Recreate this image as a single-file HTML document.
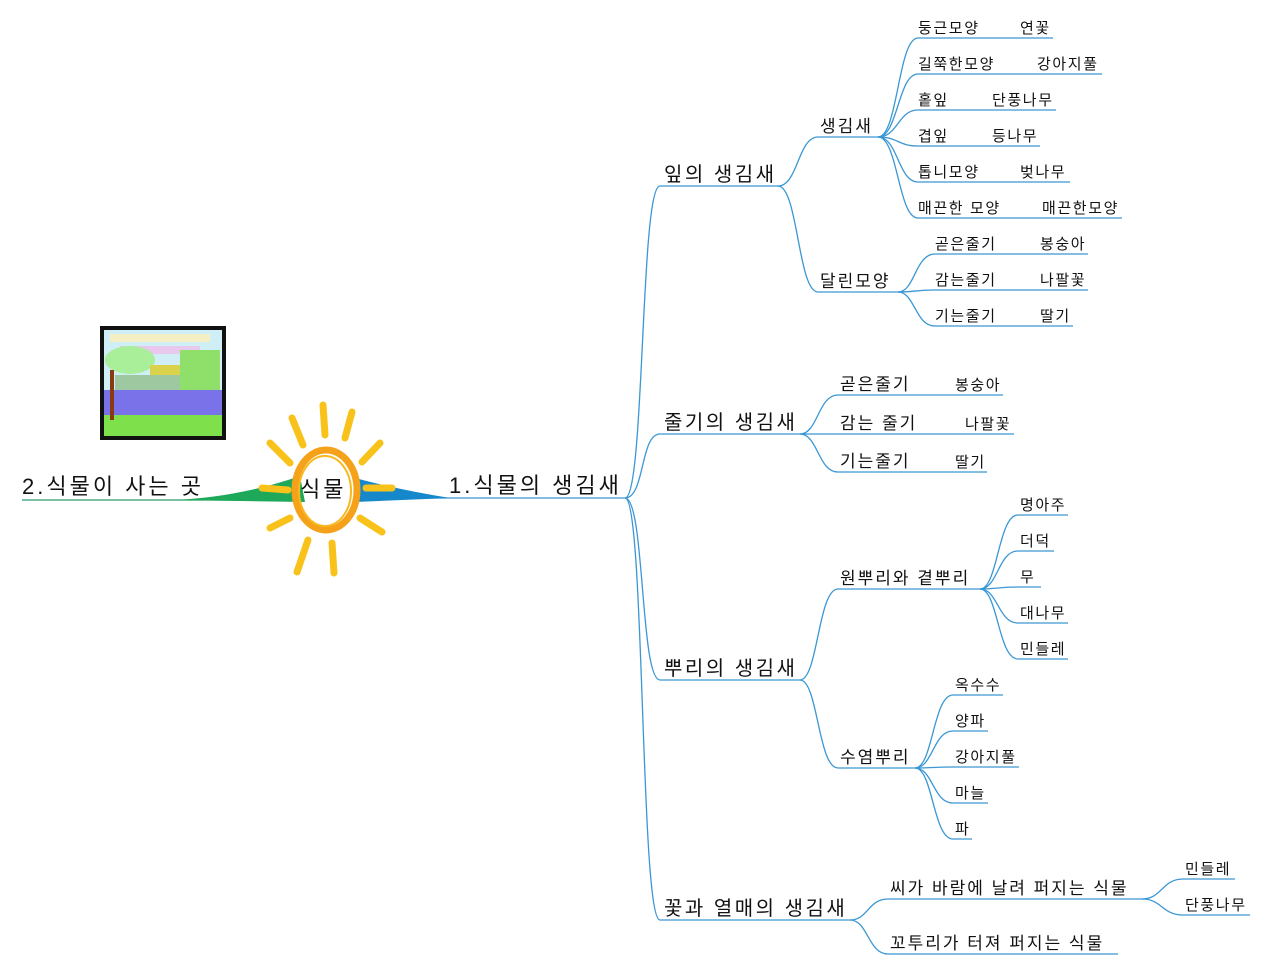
<!DOCTYPE html>
<html><head><meta charset="utf-8"><style>
html,body{margin:0;padding:0;background:#fff;}
svg{display:block;}
text{font-family:"Liberation Sans","Noto Sans CJK KR",sans-serif;fill:#111;}
.l{fill:none;stroke:#3a97d4;stroke-width:1.3;}
.a{font-size:20px;letter-spacing:2.5px;}
.b{font-size:17px;letter-spacing:2px;}
.c{font-size:15px;letter-spacing:1.6px;}
.r{font-size:22px;letter-spacing:3px;}
</style></head><body>
<svg width="1269" height="976" viewBox="0 0 1269 976">
<!-- picture -->
<rect x="100" y="326" width="126" height="114" fill="#111"/>
<rect x="104" y="330" width="118" height="106" fill="#cfeef6"/>
<rect x="110" y="334" width="100" height="8" fill="#f3efc2"/>
<rect x="120" y="346" width="80" height="8" fill="#e8c8ec"/>
<ellipse cx="130" cy="360" rx="25" ry="14" fill="#a9ee98"/>
<rect x="150" y="365" width="35" height="15" fill="#d9d24a"/>
<rect x="180" y="350" width="40" height="40" fill="#8fe06a"/>
<rect x="115" y="375" width="65" height="15" fill="#9ec9a0"/>
<rect x="104" y="390" width="118" height="25" fill="#7a72e8"/>
<rect x="104" y="415" width="118" height="21" fill="#7ee04a"/>
<rect x="110" y="370" width="4" height="50" fill="#8a3a10"/>
<!-- root wedges -->
<line x1="22" y1="500" x2="240" y2="500" stroke="#2a9a6a" stroke-width="1.3"/>
<path d="M175 500 Q240 497 300 476 L305 502 Z" fill="#1ea85a"/>
<line x1="400" y1="498" x2="625" y2="498" stroke="#3a97d4" stroke-width="1.3"/>
<path d="M355 478 Q400 490 450 498 L355 502 Z" fill="#1588cc"/>
<!-- sun rays -->
<g stroke="#f8c21a" stroke-width="7" stroke-linecap="round">
<line x1="323" y1="405" x2="325" y2="435"/>
<line x1="292" y1="418" x2="303" y2="445"/>
<line x1="352" y1="412" x2="345" y2="438"/>
<line x1="270" y1="443" x2="290" y2="463"/>
<line x1="380" y1="443" x2="362" y2="462"/>
<line x1="262" y1="488" x2="288" y2="490"/>
<line x1="366" y1="488" x2="392" y2="488"/>
<line x1="270" y1="528" x2="290" y2="518"/>
<line x1="360" y1="518" x2="382" y2="532"/>
<line x1="308" y1="540" x2="297" y2="572"/>
<line x1="332" y1="543" x2="334" y2="573"/>
</g>
<ellipse cx="326" cy="490" rx="31" ry="40" fill="none" stroke="#f5a21a" stroke-width="7"/>
<ellipse cx="325" cy="491" rx="26" ry="35" fill="none" stroke="#f8b820" stroke-width="2"/>
<text x="300" y="497" class="r">식물</text>
<text x="22" y="494" class="r">2.식물이 사는 곳</text>
<text x="449" y="493" class="r">1.식물의 생김새</text>
<!-- main branches -->
<path class="l" d="M625 498 C645 498 640 186 660 186 L778 186"/>
<path class="l" d="M625 498 C645 498 640 434 660 434 L800 434"/>
<path class="l" d="M625 498 C645 498 640 680 660 680 L800 680"/>
<path class="l" d="M625 498 C645 498 640 920 660 920 L850 920"/>
<text class="a" x="664" y="181">잎의 생김새</text>
<text class="a" x="664" y="429">줄기의 생김새</text>
<text class="a" x="664" y="675">뿌리의 생김새</text>
<text class="a" x="664" y="915">꽃과 열매의 생김새</text>
<!-- 잎 -->
<path class="l" d="M778 186 C798 186 798 137 818 137 L878 137"/>
<path class="l" d="M778 186 C798 186 798 292 818 292 L898 292"/>
<text class="b" x="820" y="132">생김새</text>
<text class="b" x="820" y="287">달린모양</text>
<g class="l">
<path d="M878 137 C898 137 898 38 918 38 L1053 38"/>
<path d="M878 137 C898 137 898 74 918 74 L1102 74"/>
<path d="M878 137 C898 137 898 110 918 110 L1056 110"/>
<path d="M878 137 C898 137 898 146 918 146 L1040 146"/>
<path d="M878 137 C898 137 898 182 918 182 L1070 182"/>
<path d="M878 137 C898 137 898 218 918 218 L1122 218"/>
<path d="M898 292 C915 292 915 254 935 254 L1088 254"/>
<path d="M898 292 C915 292 915 290 935 290 L1088 290"/>
<path d="M898 292 C915 292 915 326 935 326 L1073 326"/>
</g>
<g class="c">
<text x="918" y="33">둥근모양</text><text x="1020" y="33">연꽃</text>
<text x="918" y="69">길쭉한모양</text><text x="1037" y="69">강아지풀</text>
<text x="918" y="105">홑잎</text><text x="992" y="105">단풍나무</text>
<text x="918" y="141">겹잎</text><text x="992" y="141">등나무</text>
<text x="918" y="177">톱니모양</text><text x="1020" y="177">벚나무</text>
<text x="918" y="213">매끈한 모양</text><text x="1042" y="213">매끈한모양</text>
<text x="935" y="249">곧은줄기</text><text x="1040" y="249">봉숭아</text>
<text x="935" y="285">감는줄기</text><text x="1040" y="285">나팔꽃</text>
<text x="935" y="321">기는줄기</text><text x="1040" y="321">딸기</text>
</g>
<!-- 줄기 -->
<path class="l" d="M800 434 C818 434 818 395 838 395 L1003 395"/>
<path class="l" d="M800 434 C818 434 818 434 838 434 L1014 434"/>
<path class="l" d="M800 434 C818 434 818 472 838 472 L987 472"/>
<text class="b" x="840" y="390">곧은줄기</text><text class="c" x="955" y="390">봉숭아</text>
<text class="b" x="840" y="429">감는 줄기</text><text class="c" x="965" y="429">나팔꽃</text>
<text class="b" x="840" y="467">기는줄기</text><text class="c" x="955" y="467">딸기</text>
<!-- 뿌리 -->
<path class="l" d="M800 680 C818 680 818 589 838 589 L980 589"/>
<path class="l" d="M800 680 C818 680 818 768 838 768 L915 768"/>
<text class="b" x="840" y="584">원뿌리와 곁뿌리</text>
<text class="b" x="840" y="763">수염뿌리</text>
<g class="l">
<path d="M980 589 C998 589 998 515 1018 515 L1068 515"/>
<path d="M980 589 C998 589 998 551 1018 551 L1054 551"/>
<path d="M980 589 C998 589 998 587 1018 587 L1041 587"/>
<path d="M980 589 C998 589 998 623 1018 623 L1068 623"/>
<path d="M980 589 C998 589 998 659 1018 659 L1068 659"/>
<path d="M915 768 C933 768 933 695 953 695 L1003 695"/>
<path d="M915 768 C933 768 933 731 953 731 L988 731"/>
<path d="M915 768 C933 768 933 767 953 767 L1019 767"/>
<path d="M915 768 C933 768 933 803 953 803 L988 803"/>
<path d="M915 768 C933 768 933 839 953 839 L972 839"/>
</g>
<g class="c">
<text x="1020" y="510">명아주</text>
<text x="1020" y="546">더덕</text>
<text x="1020" y="582">무</text>
<text x="1020" y="618">대나무</text>
<text x="1020" y="654">민들레</text>
<text x="955" y="690">옥수수</text>
<text x="955" y="726">양파</text>
<text x="955" y="762">강아지풀</text>
<text x="955" y="798">마늘</text>
<text x="955" y="834">파</text>
</g>
<!-- 꽃 -->
<path class="l" d="M850 920 C868 920 868 899 888 899 L1142 899"/>
<path class="l" d="M850 920 C868 920 868 954 888 954 L1118 954"/>
<text class="b" x="890" y="894">씨가 바람에 날려 퍼지는 식물</text>
<text class="b" x="890" y="949">꼬투리가 터져 퍼지는 식물</text>
<path class="l" d="M1142 899 C1162 899 1162 879 1183 879 L1235 879"/>
<path class="l" d="M1142 899 C1162 899 1162 915 1183 915 L1250 915"/>
<text class="c" x="1185" y="874">민들레</text>
<text class="c" x="1185" y="910">단풍나무</text>
</svg>
</body></html>
